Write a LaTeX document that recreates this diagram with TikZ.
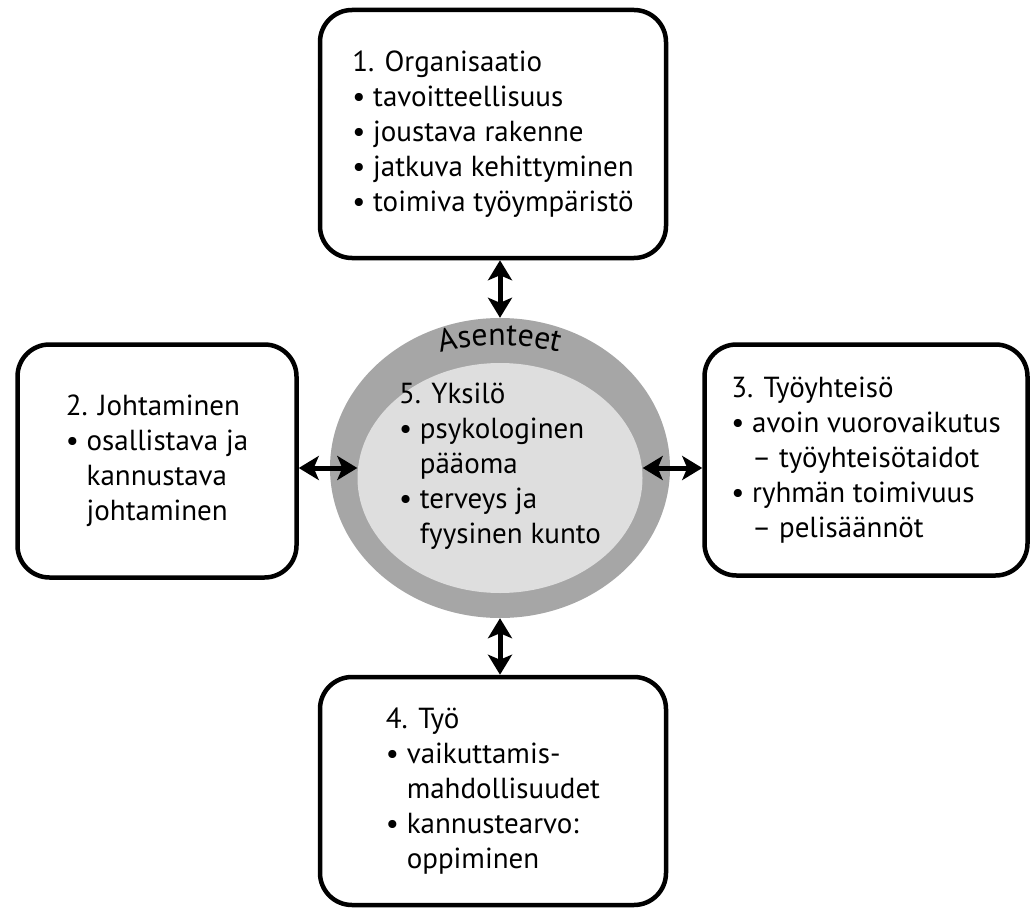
\documentclass[tikz,border=0pt]{standalone}
\usepackage{fontspec}
\setmainfont{PT Sans}
\usepackage{tikz}
\usetikzlibrary{arrows.meta,positioning,shapes.geometric,decorations.text}
\definecolor{harmaa}{HTML}{A6A6A6}
\definecolor{vaalea}{HTML}{DEDEDE}
\newcommand{\tekstikoko}{\fontsize{29}{35}\selectfont}
\newcommand{\asennekoko}{\fontsize{32}{36}\selectfont}
\newcommand{\bul}{\textbullet\ }
\newcommand{\sis}{\hphantom{\textbullet\ }}
\tikzset{
  laatikko/.style={draw=black,fill=white,line width=4.5pt,rounded corners=32pt,
    align=left,font=\tekstikoko,inner sep=0pt},
  rengas/.style={ellipse,fill=harmaa,inner sep=0pt},
  ydin/.style={ellipse,fill=vaalea,inner sep=0pt},
  teksti/.style={align=left,font=\tekstikoko,inner sep=0pt},
  nuoli/.style={{Stealth[length=20pt,width=24pt,inset=5pt]}-{Stealth[length=20pt,width=24pt,inset=5pt]},
    line width=5pt}
}

\begin{document}
\begin{tikzpicture}[x=1pt,y=1pt]
  \useasboundingbox (0,0) rectangle (1033,-912);
  % laatikot
  \node[laatikko,minimum width=346pt,minimum height=248pt] (org) at (493,-134)
    {1. Organisaatio\\ \bul tavoitteellisuus\\ \bul joustava rakenne\\
     \bul jatkuva kehittyminen\\ \bul toimiva työympäristö};
  \node[laatikko,minimum width=279pt,minimum height=233pt] (joh) at (157,-461)
    {2. Johtaminen\\ \bul osallistava ja\\ \sis kannustava\\ \sis johtaminen};
  \node[laatikko,minimum width=323pt,minimum height=231pt] (tyy) at (866,-460)
    {3. Työyhteisö\\ \bul avoin vuorovaikutus\\ \sis – työyhteisötaidot\\
     \bul ryhmän toimivuus\\ \sis – pelisäännöt};
  \node[laatikko,minimum width=346pt,minimum height=228pt] (tyo) at (493,-791)
    {4. Työ\\ \bul vaikuttamis-\\ \sis mahdollisuudet\\ \bul kannustearvo:\\ \sis oppiminen};
  % yksilö
  \node[rengas,minimum width=340pt,minimum height=300pt] (ren) at (500,-468) {};
  \node[ydin,minimum width=285pt,minimum height=230pt] (ydin) at (500,-478) {};
  \node[teksti] (yks) at (500,-466)
    {5. Yksilö\\ \bul psykologinen\\ \sis pääoma\\ \bul terveys ja\\ \sis fyysinen kunto};
  \path[decorate,decoration={text along path,text align=center,
      text={|\asennekoko|Asenteet}}]
    (ren.center) ++(132:175 and 123) arc[start angle=132,end angle=48,x radius=175,y radius=123];
  % nuolet
  \draw[nuoli] (org.south -| ren.north) -- (ren.north);
  \draw[nuoli] (ren.south) -- (ren.south |- tyo.north);
  \draw[nuoli] (joh.east |- ren.center) -- (ydin.west |- ren.center);
  \draw[nuoli] (ydin.east |- ren.center) -- (tyy.west |- ren.center);
\end{tikzpicture}
\end{document}
